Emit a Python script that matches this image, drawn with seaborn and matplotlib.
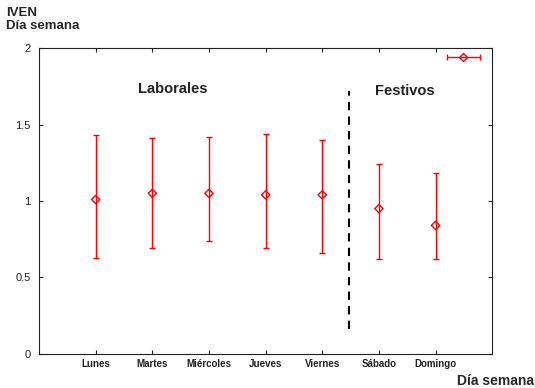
import numpy as np
import pandas as pd
import matplotlib
matplotlib.use("Agg")
import matplotlib.pyplot as plt
import seaborn as sns

# Data
days = ["Lunes", "Martes", "Miércoles", "Jueves", "Viernes", "Sábado", "Domingo"]
iven_mean = [1.01, 1.05, 1.05, 1.04, 1.04, 0.95, 0.84]
iven_upper = [1.43, 1.41, 1.42, 1.44, 1.40, 1.24, 1.18]
iven_lower = [0.63, 0.69, 0.74, 0.69, 0.66, 0.62, 0.62]

sns.set_style("ticks")
plt.rcParams['font.family'] = ['Liberation Sans', 'DejaVu Sans']

df = pd.DataFrame({"pos": np.arange(1, len(days) + 1), "day": days,
                   "mean": iven_mean, "upper": iven_upper, "lower": iven_lower})

fig = plt.figure(figsize=(5.35, 3.88), dpi=100)
ax = fig.add_axes([0.073, 0.088, 0.847, 0.788])

red = "#ff0000"
yerr = [df["mean"] - df["lower"], df["upper"] - df["mean"]]
ax.errorbar(df["pos"], df["mean"], yerr=yerr, fmt="none", ecolor=red,
            elinewidth=1.0, capsize=2, capthick=1.0, zorder=2)
sns.scatterplot(data=df, x="pos", y="mean", ax=ax, marker="D", s=18,
                facecolor="none", edgecolor=red, linewidth=1.0, zorder=3)

# legend-like key marker in the corner
ax.errorbar([7.49], [1.94], xerr=[[0.29], [0.29]], fmt="D", ms=4, mfc="none",
            mec=red, mew=1.0, color=red, elinewidth=1.0, capsize=2, capthick=1.0)

# separation line between working days and holidays
ax.plot([5.48, 5.48], [0.16, 1.72], color="black", linestyle=(0, (4, 3)), linewidth=1.5)
ax.text(2.36, 1.73, "Laborales", ha="center", va="center", fontsize=10.5,
        fontweight="bold", color="#222222")
ax.text(6.46, 1.72, "Festivos", ha="center", va="center", fontsize=10.5,
        fontweight="bold", color="#222222")

ax.set_xlim(0, 8)
ax.set_ylim(0, 2)
ax.set_xticks(df["pos"])
ax.set_xticklabels(days, fontsize=7, fontweight="bold", color="#222222")
ax.set_yticks([0, 0.5, 1, 1.5, 2])
ax.set_yticklabels(["0", "0.5", "1", "1.5", "2"], fontsize=8, color="#222222")
ax.tick_params(direction="in", top=True, right=True, length=3, width=0.8, pad=6)
ax.tick_params(axis="x", pad=4)
for s in ax.spines.values():
    s.set_linewidth(0.8)
    s.set_color("#222222")
    s.set_visible(True)
ax.set_xlabel("")
ax.set_ylabel("")

fig.text(0.012, 0.982, "IVEN\nDía semana", ha="left", va="top", fontsize=9.5,
         fontweight="bold", linespacing=1.15)
fig.text(0.998, 0.0, "Día semana", ha="right", va="bottom", fontsize=10,
         fontweight="bold")

fig.savefig("out.png", dpi=100)
